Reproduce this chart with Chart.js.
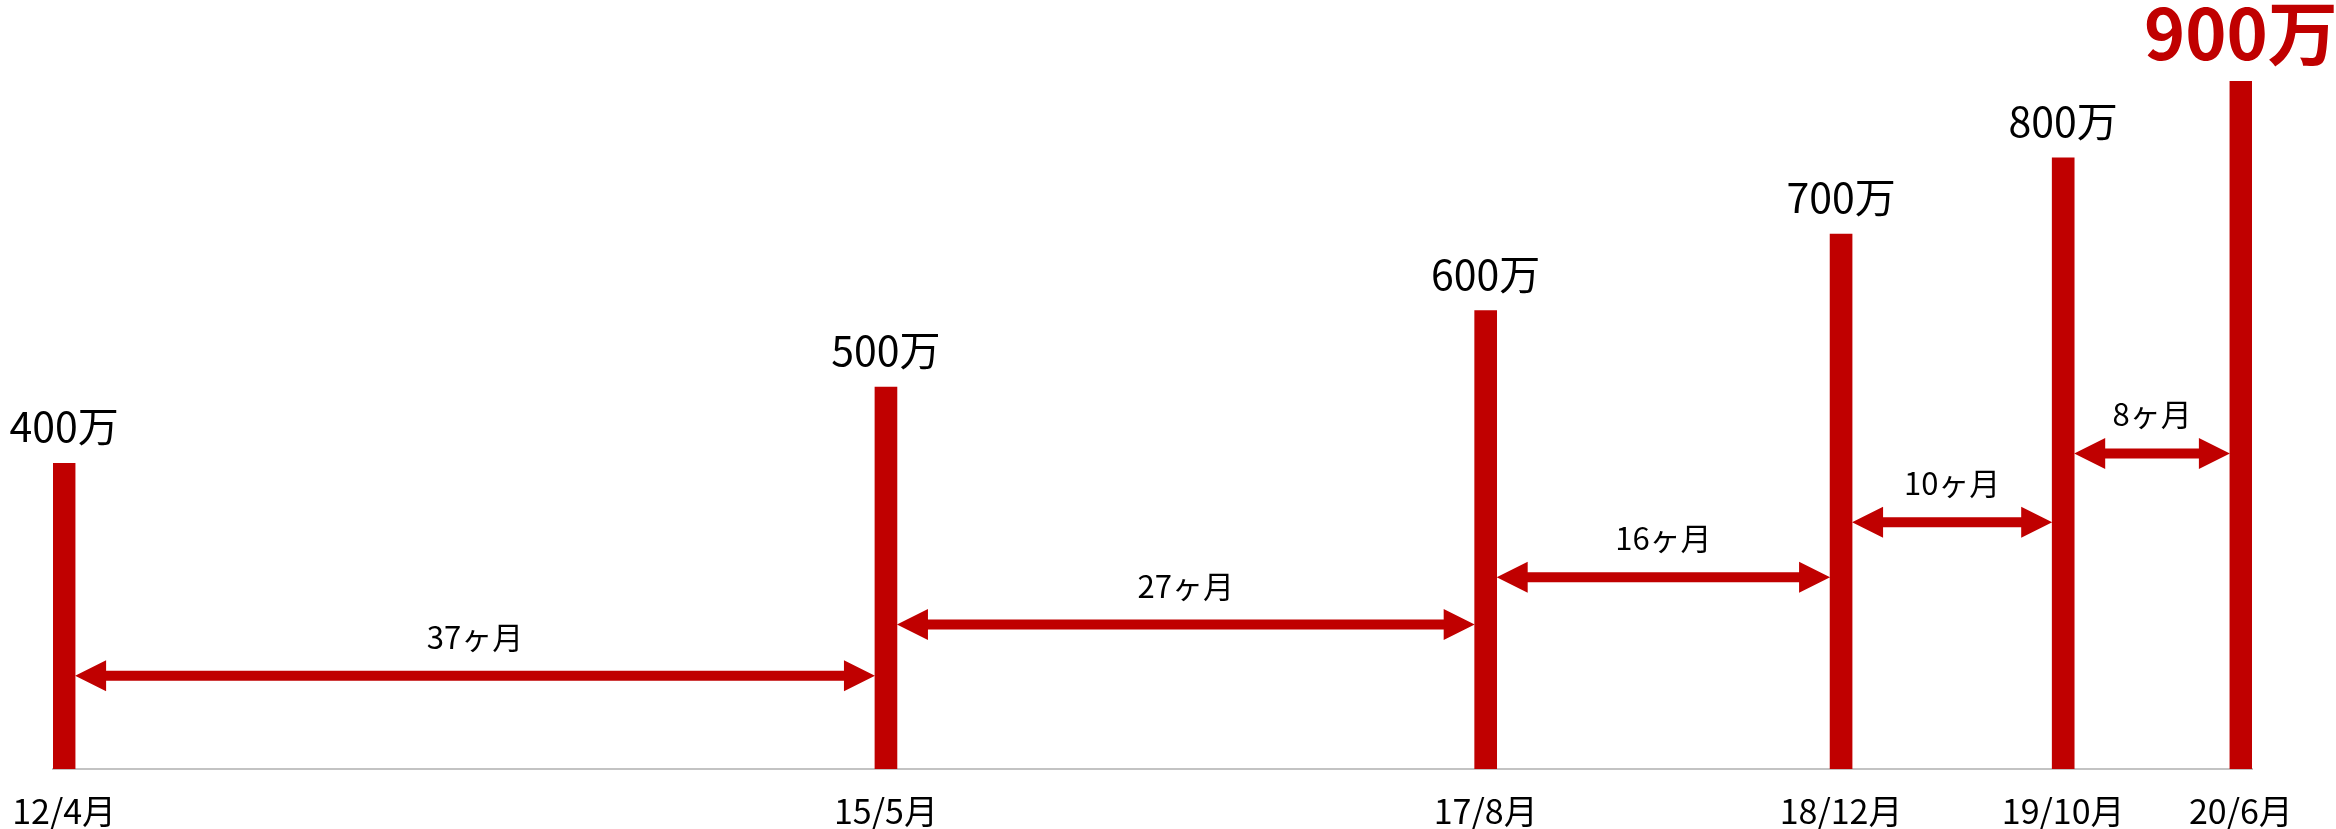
<!DOCTYPE html>
<html lang="ja">
<head>
<meta charset="utf-8">
<script src="https://cdn.jsdelivr.net/npm/chart.js@4/dist/chart.umd.min.js"></script>
<style>
  html, body { margin: 0; padding: 0; background: #fff; }
  #wrap { width: 2336px; height: 829px; position: relative; }
</style>
</head>
<body>
<div id="wrap"><canvas id="users-chart"></canvas></div>
<script>
// 2012年4月からの経過月数
const months = [0, 37, 64, 80, 90, 98];
const tickLabels = ['12/4月', '15/5月', '17/8月', '18/12月', '19/10月', '20/6月'];
const values = [400, 500, 600, 700, 800, 900];
const valueLabels = ['400万', '500万', '600万', '700万', '800万', '900万'];
// 矢印（期間）
const gapLabels = ['37ヶ月', '27ヶ月', '16ヶ月', '10ヶ月', '8ヶ月'];
const gapLevels = [122, 189, 251, 323, 413];

const RED = '#c00000';
const FONT = "'Noto Sans CJK JP', 'Noto Sans', sans-serif";

function drawArrow(ctx, x1, x2, y) {
  const shaft = 5;     // 軸の太さの半分
  const headLen = 31;
  const headHalf = 15.5;
  ctx.beginPath();
  ctx.moveTo(x1, y);
  ctx.lineTo(x1 + headLen, y - headHalf);
  ctx.lineTo(x1 + headLen, y - shaft);
  ctx.lineTo(x2 - headLen, y - shaft);
  ctx.lineTo(x2 - headLen, y - headHalf);
  ctx.lineTo(x2, y);
  ctx.lineTo(x2 - headLen, y + headHalf);
  ctx.lineTo(x2 - headLen, y + shaft);
  ctx.lineTo(x1 + headLen, y + shaft);
  ctx.lineTo(x1 + headLen, y + headHalf);
  ctx.closePath();
  ctx.fill();
}

// 数値ラベルと期間の矢印を描く
const annotations = {
  id: 'annotations',
  afterDatasetsDraw(chart) {
    const ctx = chart.ctx;
    const bars = chart.getDatasetMeta(0).data;
    const yScale = chart.scales.y;
    ctx.save();

    bars.forEach((bar, i) => {
      const last = i === bars.length - 1;
      ctx.fillStyle = last ? RED : '#000';
      ctx.font = (last ? 'bold 70px ' : '41px ') + FONT;
      ctx.textAlign = 'center';
      ctx.textBaseline = 'alphabetic';
      ctx.fillText(valueLabels[i], bar.x, bar.y - 21);
    });

    for (let i = 0; i < gapLabels.length; i++) {
      const left = bars[i].x + bars[i].width / 2;
      const right = bars[i + 1].x - bars[i + 1].width / 2;
      const y = yScale.getPixelForValue(gapLevels[i]);
      ctx.fillStyle = RED;
      drawArrow(ctx, left, right, y);
      ctx.fillStyle = '#000';
      ctx.font = '31px ' + FONT;
      ctx.textAlign = 'center';
      ctx.textBaseline = 'alphabetic';
      ctx.fillText(gapLabels[i], (left + right) / 2, y - 27);
    }
    ctx.restore();
  }
};

new Chart(document.getElementById('users-chart'), {
  type: 'bar',
  data: {
    datasets: [{
      data: months.map((m, i) => ({ x: m, y: values[i] })),
      backgroundColor: RED,
      borderWidth: 0,
      barThickness: 22
    }]
  },
  options: {
    responsive: true,
    maintainAspectRatio: false,
    animation: false,
    layout: {
      padding: { left: 53, right: 84, top: 5, bottom: 0 }
    },
    scales: {
      x: {
        type: 'linear',
        offset: false,
        min: -0.5,
        max: 98.5,
        afterBuildTicks: scale => {
          scale.ticks = months.map(v => ({ value: v }));
        },
        afterFit: scale => {
          scale.height = 60;
          // 端のラベル分の余白はlayout.paddingで確保済み
          scale.paddingLeft = 0;
          scale.paddingRight = 0;
        },
        ticks: {
          autoSkip: false,
          maxRotation: 0,
          padding: 22,
          color: '#000',
          font: { family: FONT, size: 34 },
          callback: value => tickLabels[months.indexOf(value)]
        },
        grid: { display: false, drawTicks: false },
        border: { display: true, color: '#c3c3c3', width: 2 }
      },
      y: {
        display: false,
        min: 0,
        max: 1000
      }
    },
    plugins: {
      legend: { display: false },
      tooltip: { enabled: false }
    }
  },
  plugins: [annotations]
});
</script>
</body>
</html>
